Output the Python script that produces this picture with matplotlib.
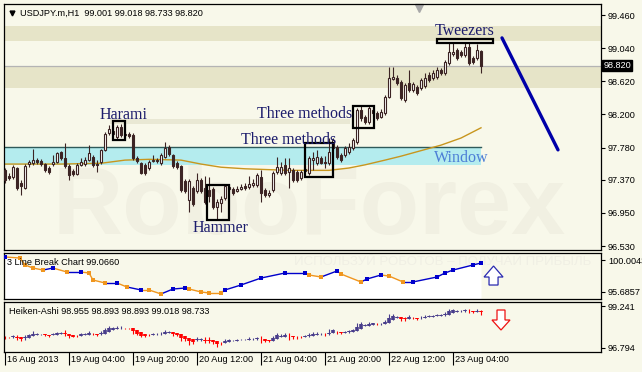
import numpy as np
import matplotlib
matplotlib.use('Agg')
import matplotlib.pyplot as plt
import matplotlib.transforms as mtransforms
from matplotlib.patches import Rectangle, FancyArrow
from matplotlib.collections import LineCollection

plt.rcParams['font.family'] = ['Liberation Sans', 'DejaVu Sans']

# USDJPY H1 candles (16 Aug 2013 .. 23 Aug 2013)
opens = [97.49, 97.42, 97.41, 97.52, 97.33, 97.27, 97.57, 97.58, 97.62, 97.61,
         97.57, 97.52, 97.57, 97.60, 97.72, 97.65, 97.54, 97.48, 97.44, 97.56,
         97.57, 97.62, 97.66, 97.57, 97.60, 97.75, 97.96, 97.99, 97.91, 98.04,
         97.95, 97.95, 97.94, 97.65, 97.58, 97.56, 97.52, 97.61, 97.62, 97.58,
         97.66, 97.79, 97.68, 97.58, 97.54, 97.35, 97.11, 97.27, 97.23, 97.37,
         97.27, 97.24, 97.25, 97.03, 97.08, 97.14, 97.25, 97.25, 97.23, 97.25,
         97.29, 97.28, 97.30, 97.30, 97.41, 97.24, 97.18, 97.24, 97.47, 97.46,
         97.56, 97.47, 97.49, 97.47, 97.39, 97.48, 97.46, 97.62, 97.58, 97.65,
         97.60, 97.58, 97.77, 97.79, 97.68, 97.68, 97.72, 97.77, 97.85, 98.26,
         98.17, 98.10, 98.26, 98.22, 98.17, 98.22, 98.42, 98.65, 98.66, 98.61,
         98.38, 98.60, 98.51, 98.55, 98.53, 98.56, 98.70, 98.66, 98.67, 98.76,
         98.72, 98.85, 98.97, 99.02, 98.99, 98.95, 99.05, 98.91, 98.91, 99.00]
highs = [97.52, 97.46, 97.56, 97.53, 97.37, 97.57, 97.62, 97.76, 97.65, 97.63,
         97.58, 97.54, 97.68, 97.72, 97.74, 97.84, 97.57, 97.51, 97.58, 97.65,
         97.66, 97.81, 97.68, 97.62, 97.76, 97.98, 98.07, 98.03, 98.07, 98.08,
         97.99, 97.98, 97.96, 97.67, 97.60, 97.58, 97.62, 97.68, 97.65, 97.71,
         97.85, 97.81, 97.70, 97.61, 97.56, 97.38, 97.38, 97.29, 97.46, 97.39,
         97.42, 97.41, 97.28, 97.13, 97.16, 97.32, 97.32, 97.28, 97.29, 97.32,
         97.33, 97.42, 97.38, 97.46, 97.49, 97.27, 97.24, 97.48, 97.66, 97.60,
         97.65, 97.65, 97.52, 97.49, 97.49, 97.54, 97.67, 97.72, 97.75, 97.67,
         97.67, 97.90, 97.90, 97.81, 97.71, 97.80, 97.84, 97.90, 98.28, 98.31,
         98.19, 98.31, 98.28, 98.24, 98.27, 98.45, 98.80, 98.80, 98.70, 98.64,
         98.60, 98.76, 98.61, 98.57, 98.66, 98.72, 98.74, 98.76, 98.80, 98.79,
         98.89, 99.10, 99.10, 99.04, 99.02, 99.10, 99.10, 98.94, 99.09, 99.02]
lows = [97.33, 97.37, 97.38, 97.24, 97.18, 97.25, 97.53, 97.56, 97.57, 97.54,
        97.47, 97.44, 97.54, 97.58, 97.62, 97.52, 97.37, 97.42, 97.43, 97.54,
        97.54, 97.61, 97.53, 97.47, 97.57, 97.74, 97.94, 97.93, 97.88, 97.91,
        97.91, 97.90, 97.62, 97.58, 97.44, 97.43, 97.49, 97.60, 97.58, 97.56,
        97.65, 97.67, 97.52, 97.51, 97.22, 97.20, 96.96, 97.04, 97.20, 97.20,
        97.06, 97.09, 97.00, 96.87, 96.96, 97.11, 97.23, 97.18, 97.22, 97.24,
        97.24, 97.25, 97.28, 97.28, 97.09, 97.15, 97.15, 97.22, 97.44, 97.43,
        97.43, 97.27, 97.34, 97.34, 97.37, 97.47, 97.43, 97.49, 97.56, 97.57,
        97.52, 97.56, 97.75, 97.63, 97.60, 97.66, 97.70, 97.75, 97.82, 98.12,
        98.08, 98.08, 98.18, 98.13, 98.15, 98.19, 98.41, 98.64, 98.57, 98.38,
        98.36, 98.48, 98.48, 98.45, 98.51, 98.53, 98.61, 98.64, 98.65, 98.70,
        98.70, 98.83, 98.94, 98.89, 98.93, 98.93, 98.83, 98.84, 98.89, 98.73]
closes = [97.37, 97.39, 97.53, 97.27, 97.29, 97.54, 97.60, 97.62, 97.60, 97.57,
          97.49, 97.47, 97.60, 97.71, 97.65, 97.54, 97.43, 97.44, 97.56, 97.60,
          97.62, 97.71, 97.56, 97.56, 97.75, 97.95, 98.01, 97.95, 98.04, 97.94,
          97.94, 97.93, 97.65, 97.61, 97.46, 97.46, 97.60, 97.62, 97.61, 97.68,
          97.77, 97.70, 97.54, 97.53, 97.24, 97.23, 97.35, 97.06, 97.37, 97.23,
          97.09, 97.16, 97.03, 97.09, 97.13, 97.29, 97.28, 97.20, 97.25, 97.28,
          97.27, 97.32, 97.33, 97.43, 97.20, 97.18, 97.20, 97.46, 97.53, 97.53,
          97.46, 97.52, 97.37, 97.37, 97.47, 97.51, 97.65, 97.65, 97.66, 97.58,
          97.58, 97.72, 97.88, 97.66, 97.62, 97.77, 97.79, 97.88, 98.26, 98.15,
          98.10, 98.28, 98.22, 98.15, 98.23, 98.42, 98.66, 98.67, 98.60, 98.41,
          98.57, 98.51, 98.58, 98.47, 98.64, 98.66, 98.64, 98.72, 98.76, 98.72,
          98.86, 98.99, 98.99, 98.91, 98.95, 99.05, 98.85, 98.86, 99.02, 98.82]

# moving average read at a few bars
ma_bar = [0, 14, 24, 30, 36, 44, 49, 54, 60, 71, 81, 86, 90, 95, 99, 104, 109, 114, 119]
ma_val = [97.57, 97.57, 97.58, 97.62, 97.63, 97.62, 97.57, 97.53, 97.51, 97.49,
          97.49, 97.52, 97.56, 97.62, 97.67, 97.74, 97.81, 97.90, 98.03]

# 3 Line Break indicator
lb_bar = [0, 3.75, 5, 7, 9.5, 12, 15.5, 19, 21, 22, 25, 28, 30.5, 34, 36, 39, 42, 45, 46, 49,
          51, 54, 55, 59, 64, 70, 75, 76, 79, 83, 84, 89, 90.5, 94, 96, 99.5, 102, 108, 110,
          112, 117, 119]
lb_val = [100.41, 100.27, 99.33, 98.92, 98.65, 98.92, 98.38, 98.38, 98.25, 97.30, 96.90,
          96.90, 96.36, 95.96, 95.96, 95.42, 96.09, 96.22, 96.09, 95.69, 95.55, 95.55, 95.96,
          96.63, 97.57, 98.25, 98.25, 97.98, 97.71, 98.52, 98.11, 97.04, 97.44, 97.98, 97.84,
          97.04, 97.04, 97.71, 98.25, 98.65, 99.33, 99.60]
lb_dir = ['up', 'dn', 'dn', 'dn', 'dn', 'up', 'dn', 'up', 'dn', 'dn', 'dn', 'up', 'dn', 'up',
          'dn', 'dn', 'up', 'up', 'dn', 'dn', 'dn', 'dn', 'up', 'up', 'up', 'up', 'up', 'dn',
          'dn', 'up', 'dn', 'dn', 'up', 'up', 'dn', 'dn', 'up', 'up', 'up', 'up', 'up', 'up']

price_ticks = [99.46, 99.04, 98.62, 98.20, 97.78, 97.37, 96.95, 96.53]
time_bar = [0, 16, 32, 48, 64, 80, 96, 112]
time_labels = ['16 Aug 2013', '19 Aug 04:00', '19 Aug 20:00', '20 Aug 12:00',
               '21 Aug 04:00', '21 Aug 20:00', '22 Aug 12:00', '23 Aug 04:00']

BG = '#f8f8ea'
CANDLE = '#3c2424'
NAVY = '#1c1c6c'
W, H = 642, 372

fig = plt.figure(figsize=(W / 100, H / 100), dpi=100)
fig.patch.set_facecolor(BG)


def panel(l, t, r, b):
    a = fig.add_axes([l / W, 1 - b / H, (r - l) / W, (b - t) / H])
    a.set_facecolor(BG)
    a.set_xlim(-0.25, 149.0)
    for s in a.spines.values():
        s.set_color('black')
        s.set_linewidth(0.9)
    a.yaxis.tick_right()
    a.tick_params(axis='y', length=3, width=0.8, pad=2, labelsize=6.6)
    a.tick_params(axis='x', bottom=False, labelbottom=False)
    return a


ax = panel(4, 4, 601, 250)
ax2 = panel(4, 253, 601, 299)
ax3 = panel(4, 302, 601, 352)

# ---------------- main price panel
ax.set_ylim(96.48, 99.60)
ax.set_yticks(price_ticks, [f'{v:.3f}' for v in price_ticks])

ax.axhspan(99.13, 99.32, color='#e6e4c8', lw=0, zorder=0)
ax.axhspan(98.53, 98.80, color='#e6e4c8', lw=0, zorder=0)
ax.fill_between([26.25, 86.25], 98.08, 98.14, color='#e9e8d4', lw=0, zorder=0)
ax.fill_between([-0.25, 119], 97.56, 97.79, color='#b4ecee', lw=0, zorder=1)
ax.plot([-0.25, 119], [97.79, 97.79], color='#2f5a5a', lw=1.0, zorder=1)
ax.axhline(98.82, color='#b4b4b4', lw=0.9, zorder=1)

ax.text(76, 97.0, 'RoboForex', fontsize=70, fontweight='bold', color='#f1f0e2',
        ha='center', va='center', zorder=0.5)

ax.plot(ma_bar, ma_val, color='#c8961e', lw=1.0, zorder=2)

idx = np.arange(len(closes))
o = np.array(opens)
c = np.array(closes)
up = c >= o
ax.vlines(idx, lows, highs, color=CANDLE, lw=0.8, zorder=3)
ax.bar(idx[up], (c - o)[up], bottom=o[up], width=0.5, facecolor='white',
       edgecolor=CANDLE, lw=0.8, zorder=4)
ax.bar(idx[~up], (o - c)[~up], bottom=c[~up], width=0.5, facecolor=CANDLE,
       edgecolor=CANDLE, lw=0.8, zorder=4)

# pattern boxes
for x0, x1, y0, y1 in [(27, 30, 97.87, 98.12), (50.5, 56, 96.86, 97.30),
                       (75, 82, 97.41, 97.84), (87, 92.25, 98.03, 98.31),
                       (108, 122, 99.10, 99.16)]:
    ax.add_patch(Rectangle((x0, y0), x1 - x0, y1 - y0, fill=False, ec='black',
                           lw=1.6, zorder=5))

serif = dict(family='Liberation Serif', fontsize=11.5, ha='center', va='center', zorder=6)
ax.text(29.75, 98.19, 'Harami', color=NAVY, **serif)
ax.text(75, 98.21, 'Three methods', color=NAVY, **serif)
ax.text(71, 97.88, 'Three methods', color=NAVY, **serif)
ax.text(54, 96.76, 'Hammer', color=NAVY, **serif)
ax.text(115, 99.26, 'Tweezers', color=NAVY, **serif)
ax.text(114, 97.65, 'Window', color='#4c7ed6', **serif)

ax.plot([124.25, 138.25], [99.17, 97.75], color='#0000a8', lw=2.4,
        solid_capstyle='round', zorder=6)

blend = mtransforms.blended_transform_factory(ax.transData, ax.transAxes)
ax.plot(103.5, 0.985, marker='v', ms=6, color='#a8a8a8', transform=blend, clip_on=False)

ax.text(0.027, 0.963, 'USDJPY.m,H1  99.001 99.018 98.733 98.820', transform=ax.transAxes,
        fontsize=6.6, va='center', ha='left')
ax.plot(0.0134, 0.963, marker='v', ms=3.5, color='black', transform=ax.transAxes)

ax.text(1.004, 98.82, '98.820', color='white', fontsize=6.6, va='center', ha='left',
        transform=mtransforms.blended_transform_factory(ax.transAxes, ax.transData),
        bbox=dict(boxstyle='square,pad=0.12', fc='black', ec='black'))

# ---------------- 3 line break panel
ax2.set_ylim(94.741, 100.949)
ax2.set_yticks([100.0043, 95.6857], ['100.0043', '95.6857'])
ax2.fill_between(lb_bar, lb_val, 94.741, color='white', lw=0, zorder=1)
ax2.text(0.485, 0.80, 'ИСПОЛЬЗУЙ РОБОТОВ – ПОЛУЧАЙ ПРИБЫЛЬ', transform=ax2.transAxes,
         fontsize=9.5, color='#f0efe4', zorder=1.5, ha='left', va='center')
lb_col = ['#0000cc' if d == 'up' else '#f0961e' for d in lb_dir]
segs = [[(lb_bar[k], lb_val[k]), (lb_bar[k + 1], lb_val[k + 1])] for k in range(len(lb_bar) - 1)]
ax2.add_collection(LineCollection(segs, colors=lb_col[1:], lw=1.0, zorder=2))
ax2.scatter(lb_bar, lb_val, c=lb_col, marker='s', s=8, lw=0, zorder=3)
ax2.text(0.005, 0.80, '3 Line Break Chart 99.0660', transform=ax2.transAxes,
         fontsize=6.6, va='center', ha='left', zorder=4)
ax2.add_patch(FancyArrow(0.820, 0.304, 0, 0.413, width=0.0151, head_width=0.0318,
                         head_length=0.239, length_includes_head=True,
                         transform=ax2.transAxes, fc='white', ec='#2a2ab0', lw=0.9, zorder=5))

# ---------------- Heiken-Ashi panel
ha_close = (o + np.array(highs) + np.array(lows) + c) / 4
ha_open = np.empty_like(ha_close)
ha_open[0] = (o[0] + c[0]) / 2
for k in range(1, len(ha_open)):
    ha_open[k] = (ha_open[k - 1] + ha_close[k - 1]) / 2
ha_high = np.maximum.reduce([np.array(highs), ha_open, ha_close])
ha_low = np.minimum.reduce([np.array(lows), ha_open, ha_close])
ha_col = np.where(ha_close >= ha_open, '#483d8b', '#ff0000')

ax3.set_ylim(96.55, 99.50)
ax3.set_yticks([99.241, 96.794], ['99.241', '96.794'])
ax3.vlines(idx, ha_low, ha_high, colors=ha_col, lw=0.8, zorder=2)
ax3.vlines(idx, np.minimum(ha_open, ha_close), np.maximum(ha_open, ha_close),
           colors=ha_col, lw=2.6, zorder=3)
ax3.text(0.0084, 0.82, 'Heiken-Ashi 98.955 98.893 98.893 99.018 98.733',
         transform=ax3.transAxes, fontsize=6.6, va='center', ha='left')
ax3.add_patch(FancyArrow(0.8325, 0.84, 0, -0.40, width=0.0134, head_width=0.0302,
                         head_length=0.2, length_includes_head=True,
                         transform=ax3.transAxes, fc='white', ec='#ee1111', lw=0.9, zorder=5))

ax3.set_xticks(time_bar, time_labels)
ax3.tick_params(axis='x', bottom=True, labelbottom=True, length=9, width=0.8,
                direction='out', pad=-7, labelsize=6.6)
shift = mtransforms.ScaledTranslation(2 / 100, 0, fig.dpi_scale_trans)
for lab in ax3.get_xticklabels():
    lab.set_horizontalalignment('left')
    lab.set_transform(lab.get_transform() + shift)

fig.savefig('out.png', dpi=100, facecolor=BG)
